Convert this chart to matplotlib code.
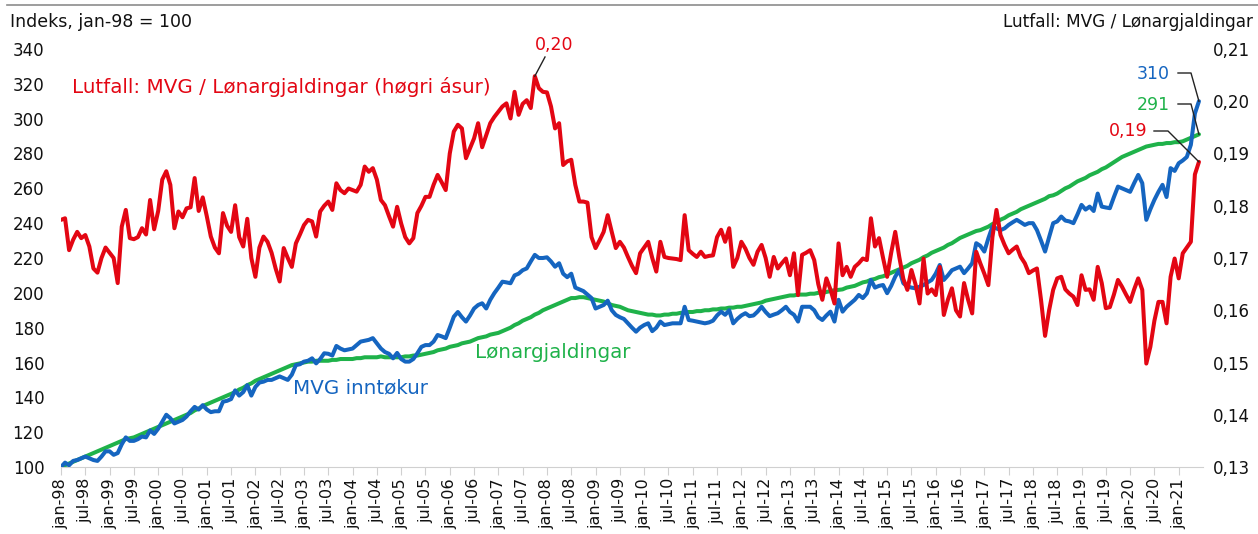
import matplotlib
matplotlib.use("Agg")
import matplotlib.pyplot as plt
from matplotlib.lines import Line2D
from matplotlib.ticker import FuncFormatter
import numpy as np

# monthly values, jan-98 .. jun-21
mvg_inntokur = [
    100, 102.5, 101, 103.5, 104, 105, 106, 105, 104, 103.5, 106, 109,            # 1998
    109, 107, 108, 113, 117, 115, 115, 116, 117.5, 117, 121, 119,                 # 1999
    122, 126, 130, 128, 125, 126, 127, 129, 132, 134.5, 133, 135.5,               # 2000
    133, 131.5, 132, 132, 137.5, 138, 139, 144, 141, 143, 147, 141,               # 2001
    146, 148.5, 149, 150, 150, 151, 152, 151, 150, 153, 158.5, 159,               # 2002
    160.5, 161, 162.4, 159.5, 162, 165.3, 165, 164, 169.5, 168, 167, 167.5,       # 2003
    168, 170, 172, 172.5, 173, 174, 171, 168, 166, 165, 162.4, 165.5,             # 2004
    162, 160.5, 160.5, 162, 165.3, 169, 170, 170, 172, 175.8, 175, 174,           # 2005
    180, 186.3, 189, 186, 183.5, 187, 191, 193, 194, 191, 196, 199.8,             # 2006
    203, 206.4, 206, 205.5, 210, 211, 213, 214, 218, 221.8, 220, 220,             # 2007
    220.4, 218, 215, 217, 211, 209, 211, 203, 202, 201, 199, 197,                 # 2008
    191, 192, 193, 195.5, 190, 187.3, 186, 185, 182.5, 180, 177.7, 180,           # 2009
    181.5, 182.5, 178, 180, 183.5, 181.5, 182, 182.5, 182.5, 182.5, 192, 184.4,   # 2010
    184, 183.5, 183, 182.5, 183, 184, 187, 189.2, 187.4, 190, 182.5, 185,         # 2011
    187, 188.3, 186.6, 187, 189.2, 192, 189, 186.6, 187.5, 188.3, 190, 192,       # 2012
    189, 187.4, 183.5, 192, 192, 192, 190, 186, 184.4, 187, 189.2, 183.5,         # 2013
    196, 189.2, 192, 194, 196, 198.8, 197, 199.7, 207.4, 203, 204, 204.5,         # 2014
    199.8, 204, 209.3, 213, 205.5, 203.7, 203, 202.6, 203.5, 204.5, 206, 207.4,   # 2015
    211, 216, 207.4, 210, 213, 214, 215, 211.3, 214, 217, 228.5, 227,             # 2016
    223.7, 231.3, 238, 237, 236, 237, 239, 240.5, 241.9, 240.5, 239, 240,         # 2017
    240, 236, 230, 223.7, 232, 240, 241, 243.8, 241.5, 241, 240, 245,             # 2018
    250.5, 247.8, 249.5, 247, 257, 249.5, 249, 248.6, 255, 261, 260, 259,         # 2019
    258, 263, 267.7, 263, 241.9, 248, 253.4, 258, 262, 255, 271.6, 270,           # 2020
    274.4, 276, 278, 285, 303, 310,                                               # 2021
]

lonargjaldingar = [
    100, 101, 102, 103, 104, 105, 106, 107, 108, 109, 110, 111,
    112, 113, 114, 115, 116, 116.5, 117, 118, 119, 120, 121, 122,
    123, 124, 125, 126, 127, 128, 129, 130, 131, 132.5, 133.5, 135,
    136, 137, 138, 139, 140, 141, 142, 143, 144.5, 145.5, 147, 148,
    149.5, 150.5, 151.5, 152.5, 153.5, 154.5, 155.5, 156.5, 157.5, 158.5, 159, 159.5,
    160, 160.5, 160.5, 161, 161, 161, 161, 161.5, 161.5, 162, 162, 162,
    162, 162.5, 162.5, 163, 163, 163, 163, 163.5, 163, 163, 163, 163,
    163, 163.5, 163.5, 164, 164, 164.5, 165, 165.5, 166, 167, 167.5, 168,
    169, 169.5, 170, 171, 171.5, 172, 173, 174, 174.5, 175, 176, 176.5,
    177, 178, 179, 180, 181.5, 182.5, 184, 185, 186, 187.5, 188.5, 190,
    191, 192, 193, 194, 195, 196, 197, 197, 197.5, 197.5, 197, 196.5,
    196, 195.5, 195, 194, 193, 192.5, 192, 191, 190, 189.5, 189, 188.5,
    188, 187.5, 187.5, 187, 187, 187.5, 187.5, 188, 188, 188.5, 188.5, 189,
    189, 189.5, 189.5, 190, 190, 190.5, 190.5, 191, 191, 191.5, 191.5, 192,
    192, 192.5, 193, 193.5, 194, 194.5, 195.5, 196, 196.5, 197, 197.5, 198,
    198.5, 198.5, 199, 199, 199, 199.5, 199.5, 200, 200, 200.5, 201, 201.5,
    201.7, 202, 203, 203.5, 204, 205, 206, 206.5, 207.5, 208, 209, 209.5,
    210.5, 211.5, 212.5, 213.5, 214.5, 215.5, 217, 218, 219, 220.5, 221.5, 223,
    224, 225, 226, 227.5, 228.5, 230, 231.5, 232.5, 233.5, 234.5, 235.5, 236,
    237, 238, 239.5, 240.5, 242, 243, 244.5, 245.5, 246.5, 248, 249, 250,
    251, 252, 253, 254, 255.5, 256, 257, 258.5, 260, 261, 262.5, 264,
    265, 266, 267.5, 268.5, 269.5, 271, 272, 273.5, 275, 276.5, 278, 279,
    280, 281, 282, 283, 284, 284.5, 285, 285.5, 285.5, 286, 286, 286.5,
    286.5, 287, 288, 289, 290, 291,
]

lutfall = [
    0.1773, 0.1776, 0.1715, 0.1735, 0.1750, 0.1738, 0.1744, 0.1722, 0.1680, 0.1672, 0.1700, 0.1720,
    0.1710, 0.1700, 0.1652, 0.1760, 0.1792, 0.1738, 0.1736, 0.1740, 0.1757, 0.1745, 0.1811, 0.1755,
    0.1790, 0.1850, 0.1866, 0.1840, 0.1757, 0.1789, 0.1778, 0.1795, 0.1797, 0.1853, 0.1790, 0.1816,
    0.1780, 0.1741, 0.1720, 0.1709, 0.1786, 0.1762, 0.1750, 0.1801, 0.1740, 0.1722, 0.1775, 0.1700,
    0.1664, 0.1720, 0.1741, 0.1731, 0.1710, 0.1680, 0.1655, 0.1719, 0.1700, 0.1683, 0.1728, 0.1745,
    0.1763, 0.1773, 0.1770, 0.1741, 0.1789, 0.1800, 0.1808, 0.1792, 0.1843, 0.1830, 0.1824, 0.1833,
    0.1830, 0.1827, 0.1840, 0.1875, 0.1865, 0.1872, 0.1850, 0.1811, 0.1801, 0.1780, 0.1760, 0.1798,
    0.1766, 0.1740, 0.1728, 0.1738, 0.1786, 0.1800, 0.1817, 0.1817, 0.1840, 0.1859, 0.1845, 0.1830,
    0.1900, 0.1942, 0.1955, 0.1948, 0.1891, 0.1910, 0.1929, 0.1958, 0.1912, 0.1935, 0.1958, 0.1970,
    0.1980, 0.1990, 0.1996, 0.1967, 0.2018, 0.1974, 0.1995, 0.2002, 0.1987, 0.2048, 0.2025, 0.2018,
    0.2017, 0.1990, 0.1948, 0.1958, 0.1878, 0.1885, 0.1888, 0.1840, 0.1808, 0.1808, 0.1806, 0.1740,
    0.1719, 0.1734, 0.1750, 0.1782, 0.1750, 0.1719, 0.1731, 0.1720, 0.1702, 0.1685, 0.1671, 0.1709,
    0.1720, 0.1731, 0.1700, 0.1674, 0.1731, 0.1702, 0.1700, 0.1699, 0.1698, 0.1696, 0.1782, 0.1715,
    0.1708, 0.1702, 0.1712, 0.1702, 0.1704, 0.1705, 0.1740, 0.1754, 0.1731, 0.1757, 0.1683, 0.1700,
    0.1731, 0.1718, 0.1700, 0.1687, 0.1712, 0.1725, 0.1700, 0.1664, 0.1702, 0.1680, 0.1690, 0.1699,
    0.1667, 0.1709, 0.1629, 0.1706, 0.1710, 0.1715, 0.1696, 0.1650, 0.1620, 0.1661, 0.1640, 0.1613,
    0.1728, 0.1667, 0.1683, 0.1664, 0.1683, 0.1690, 0.1699, 0.1696, 0.1776, 0.1722, 0.1738, 0.1700,
    0.1664, 0.1710, 0.1750, 0.1702, 0.1660, 0.1639, 0.1677, 0.1650, 0.1613, 0.1699, 0.1632, 0.1640,
    0.1629, 0.1683, 0.1591, 0.1620, 0.1642, 0.1600, 0.1588, 0.1652, 0.1620, 0.1594, 0.1712, 0.1690,
    0.1670, 0.1648, 0.1740, 0.1792, 0.1744, 0.1725, 0.1709, 0.1716, 0.1722, 0.1702, 0.1690, 0.1671,
    0.1676, 0.1680, 0.1620, 0.1551, 0.1600, 0.1639, 0.1661, 0.1664, 0.1640, 0.1632, 0.1626, 0.1610,
    0.1667, 0.1639, 0.1640, 0.1620, 0.1683, 0.1652, 0.1604, 0.1606, 0.1630, 0.1658, 0.1645, 0.1630,
    0.1616, 0.1640, 0.1661, 0.1639, 0.1498, 0.1530, 0.1580, 0.1616, 0.1616, 0.1575, 0.1664, 0.1699,
    0.1661, 0.1709, 0.1720, 0.1731, 0.1860, 0.1884,
]

years = list(range(1998, 2022))
tick_labels = []
for y in years:
    tick_labels += ["jan-%02d" % (y % 100), "jul-%02d" % (y % 100)]
tick_labels = tick_labels[:47]   # jan-98 .. jan-21

RED = "#e30613"
BLUE = "#1565c0"
GREEN = "#1fb24a"
W, H = 1258, 534

fig = plt.figure(figsize=(W / 100, H / 100), dpi=100)
ax = fig.add_axes([61 / W, 67 / H, (1203 - 61) / W, (467 - 49) / H])
ax2 = ax.twinx()

x = np.arange(len(mvg_inntokur))
ax.plot(x, lonargjaldingar, color=GREEN, lw=2.9, solid_capstyle="round", zorder=2)
ax.plot(x, mvg_inntokur, color=BLUE, lw=2.9, solid_capstyle="round", zorder=3)
ax2.plot(x, lutfall, color=RED, lw=2.9, solid_capstyle="round")

ax.set_xlim(0, 282)
ax.set_ylim(100, 340)
ax.set_yticks(np.arange(100, 341, 20))
ax2.set_ylim(0.13, 0.21)
ax2.set_yticks(np.arange(0.13, 0.2101, 0.01))
ax2.yaxis.set_major_formatter(FuncFormatter(lambda v, p: ("%.2f" % v).replace(".", ",")))

ax.set_xticks(np.arange(len(tick_labels)) * 6)
ax.set_xticklabels(tick_labels, rotation=90, fontsize=11.5)

for a in (ax, ax2):
    for s in a.spines.values():
        s.set_visible(False)
ax.spines["bottom"].set_visible(True)
ax.spines["bottom"].set_color("#d0d0d0")
ax.tick_params(axis="x", direction="out", length=6, color="#d0d0d0", pad=2, labelcolor="#111111")
ax.tick_params(axis="y", length=0, pad=12, labelsize=12, labelcolor="#111111")
ax2.tick_params(axis="y", length=0, pad=7, labelsize=12, labelcolor="#111111")

# titles of the axes
fig.text(10 / W, 1 - 22 / H, "Indeks, jan-98 = 100", fontsize=12.5, va="center", color="#111111")
fig.text(1253 / W, 1 - 22 / H, "Lutfall: MVG / Lønargjaldingar", fontsize=12.2, va="center",
         ha="right", color="#111111")
fig.add_artist(Line2D([7 / W, 1], [1 - 5 / H, 1 - 5 / H], color="#8c8c8c", lw=1.2))

# series labels
fig.text(72 / W, 1 - 87 / H, "Lutfall: MVG / Lønargjaldingar (høgri ásur)", color=RED,
         fontsize=14.3, va="center")
fig.text(475 / W, 1 - 352 / H, "Lønargjaldingar", color=GREEN, fontsize=14.3, va="center")
fig.text(293 / W, 1 - 388 / H, "MVG inntøkur", color=BLUE, fontsize=14.3, va="center")

to_fig = fig.transFigure.inverted()


def leader(axis, xd, yd, pts):
    px, py = axis.transData.transform((xd, yd))
    xs = [p[0] for p in pts] + [px]
    ys = [H - p[1] for p in pts] + [py]
    fx, fy = zip(*[to_fig.transform((a, b)) for a, b in zip(xs, ys)])
    fig.add_artist(Line2D(fx, fy, color="#222222", lw=1))


last = len(mvg_inntokur) - 1
peak = int(np.argmax(lutfall))

fig.text(554 / W, 1 - 45 / H, "0,20", color=RED, fontsize=12.5, ha="center", va="center")
leader(ax2, peak, lutfall[peak], [(545, 57)])

fig.text(1170 / W, 1 - 74 / H, "%d" % round(mvg_inntokur[-1]), color=BLUE, fontsize=12.5,
         ha="right", va="center")
leader(ax, last, mvg_inntokur[-1], [(1178, 73), (1191, 73)])

fig.text(1170 / W, 1 - 105 / H, "%d" % round(lonargjaldingar[-1]), color=GREEN, fontsize=12.5,
         ha="right", va="center")
leader(ax, last, lonargjaldingar[-1], [(1178, 104), (1191, 104)])

fig.text(1147 / W, 1 - 131 / H, ("%.2f" % lutfall[-1]).replace(".", ","), color=RED,
         fontsize=12.5, ha="right", va="center")
leader(ax2, last, lutfall[-1], [(1154, 131), (1168, 131)])

fig.savefig("out.png", dpi=100)
